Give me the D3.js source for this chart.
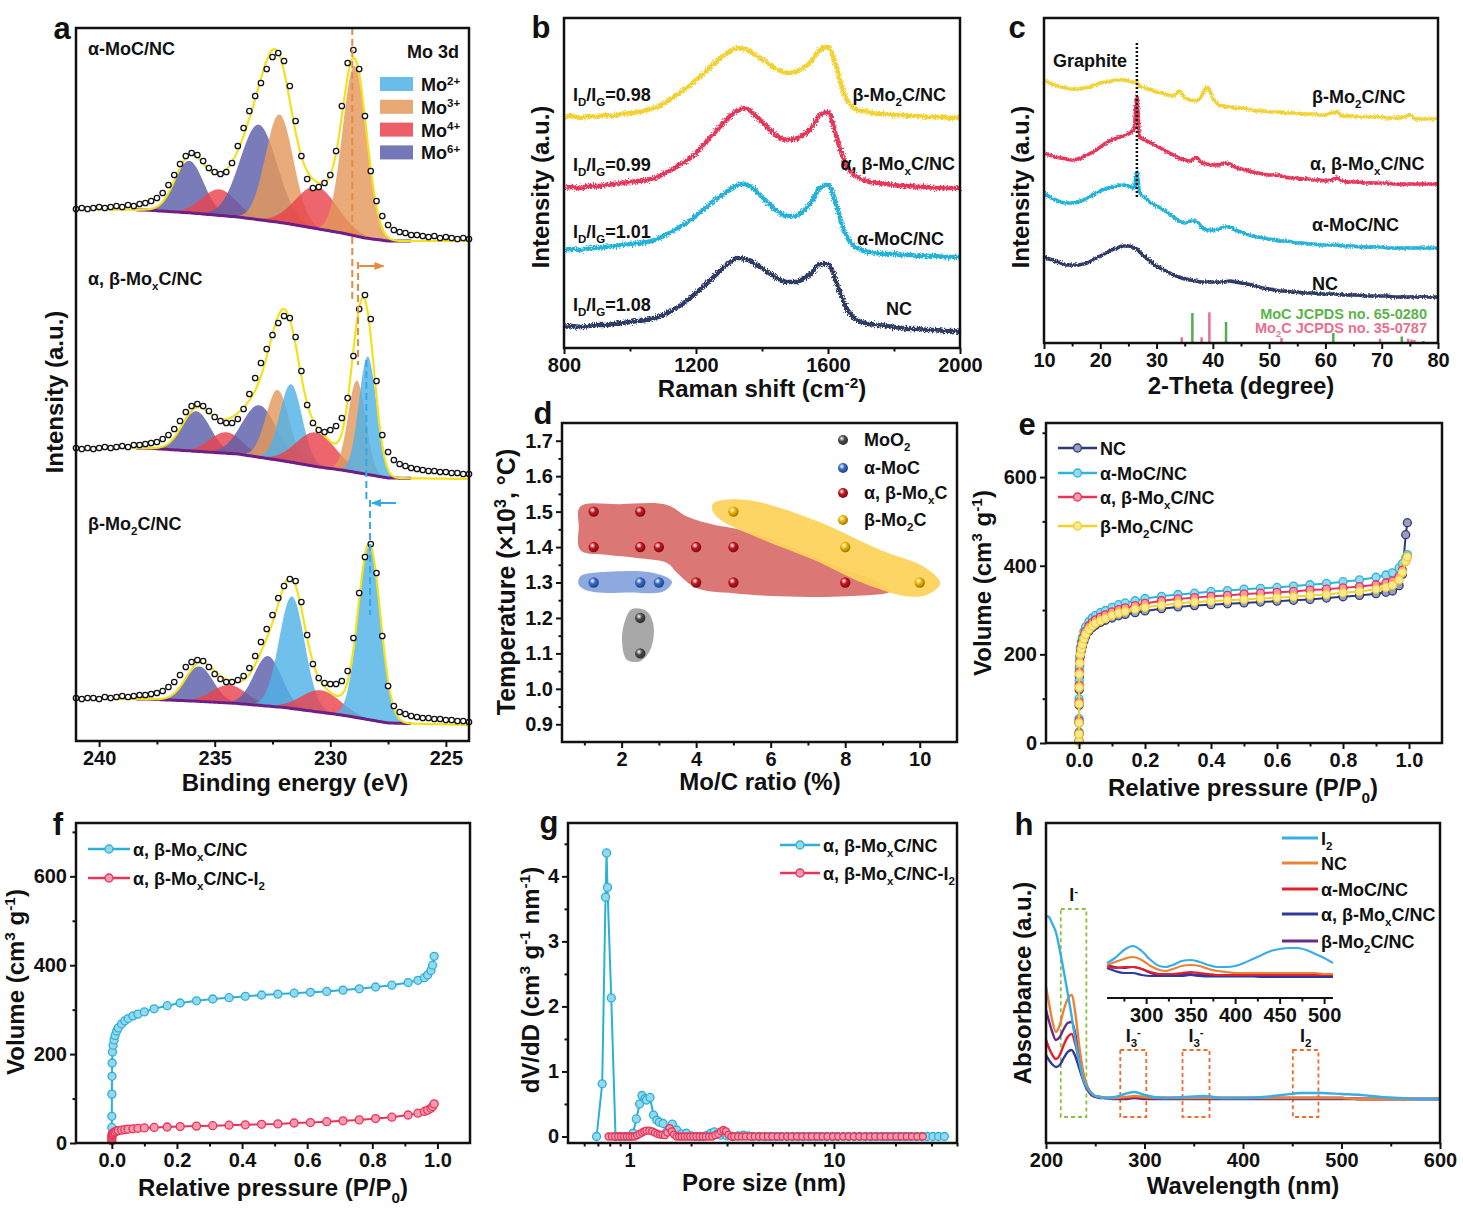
<!DOCTYPE html>
<html>
<head>
<meta charset="utf-8">
<script src="https://cdn.jsdelivr.net/npm/d3@7"></script>
<style>
  body { margin: 0; background: #fff; }
</style>
</head>
<body>
<div id="chart"></div>
<script>
// ---------- data: a (XPS Mo 3d) ----------
const xpsEnergy = [241, 240.75, 240.5, 240.25, 240, 239.75, 239.5, 239.25, 239, 238.75,
  238.5, 238.25, 238, 237.75, 237.5, 237.25, 237, 236.75, 236.5, 236.25,
  236, 235.75, 235.5, 235.25, 235, 234.75, 234.5, 234.25, 234, 233.75,
  233.5, 233.25, 233, 232.75, 232.5, 232.25, 232, 231.75, 231.5, 231.25,
  231, 230.75, 230.5, 230.25, 230, 229.75, 229.5, 229.25, 229, 228.75,
  228.5, 228.25, 228, 227.75, 227.5, 227.25, 227, 226.75, 226.5, 226.25,
  226, 225.75, 225.5, 225.25, 225, 224.75, 224.5, 224.25, 224];
const obsMoC = [532, 533, 532, 533, 534, 533, 534, 535, 534, 536,
  535, 537, 538, 540, 543, 548, 556, 566, 577, 585,
  588, 586, 580, 573, 569, 567, 569, 578, 595, 613,
  630, 645, 658, 672, 684, 688, 680, 655, 620, 585,
  562, 553, 554, 558, 566, 590, 635, 678, 691, 672,
  625, 570, 540, 525, 516, 511, 509, 508, 506, 506,
  505, 504, 505, 503, 504, 503, 502, 503, 502];
const obsMoxC = [293, 292, 293, 292, 293, 294, 293, 294, 295, 294,
  296, 296, 297, 298, 299, 302, 306, 312, 320, 329,
  335, 337, 335, 330, 324, 320, 318, 318, 322, 332,
  347, 363, 378, 392, 406, 418, 425, 423, 404, 370,
  336, 318, 311, 309, 311, 315, 323, 343, 385, 432,
  446, 422, 360, 306, 289, 281, 277, 275, 273, 272,
  271, 270, 270, 269, 269, 268, 268, 267, 267];
const obsMo2C = [43, 42, 43, 43, 42, 44, 43, 44, 45, 44,
  45, 46, 46, 47, 48, 50, 54, 59, 66, 74,
  79, 81, 80, 74, 67, 62, 59, 59, 61, 65,
  73, 85, 99, 112, 126, 143, 155, 162, 160, 139,
  106, 77, 63, 58, 57, 57, 60, 70, 103, 148,
  184, 197, 168, 105, 55, 35, 29, 27, 25, 24,
  23, 23, 22, 22, 21, 21, 20, 20, 19];
// background knots
const bgEnergy = [241, 238, 236, 234, 232, 230.5, 229.5, 228.5, 227.5, 224];
const bgMoC = [532, 531, 528, 524, 518, 512, 508, 503, 500, 500];
const bgMoxC = [293, 293, 290, 287, 280, 274, 271, 267, 263, 262];
const bgMo2C = [42, 42, 40, 37.5, 33.5, 29, 26, 22, 18, 16];
// fitted components: [state, centre eV, height, sigma eV]
const compsMoC = [["Mo6+", 236.1, 52, 0.62], ["Mo4+", 234.8, 26, 0.75], ["Mo6+", 233.1, 95, 0.8],
  ["Mo3+", 232.2, 108, 0.6], ["Mo4+", 230.6, 42, 0.9], ["Mo3+", 228.95, 170, 0.52]];
const compsMoxC = [["Mo6+", 235.8, 40, 0.62], ["Mo4+", 234.5, 21, 0.7], ["Mo6+", 233.07, 52, 0.75],
  ["Mo3+", 232.28, 70, 0.5], ["Mo2+", 231.7, 78, 0.48], ["Mo4+", 230.62, 34, 0.85],
  ["Mo3+", 228.85, 92, 0.38], ["Mo2+", 228.38, 118, 0.38]];
const compsMo2C = [["Mo6+", 235.67, 35, 0.6], ["Mo4+", 234.37, 18, 0.75], ["Mo6+", 232.7, 50, 0.6],
  ["Mo2+", 231.66, 112, 0.55], ["Mo4+", 230.4, 22, 0.85], ["Mo2+", 228.31, 175, 0.48]];
const moStates = ["Mo2+", "Mo3+", "Mo4+", "Mo6+"];
// peak shift guides: [eV, from, to]
const shiftOrange = [[229.05, 713, 441], [228.8, 479, 376]];
const shiftBlue = [[228.44, 381, 241], [228.28, 241, 126]];

// ---------- data: b (Raman) ----------
const ramanShift = [800, 825, 850, 875, 900, 925, 950, 975, 1000, 1025, 1050, 1075, 1100, 1125, 1150, 1175,
  1200, 1225, 1250, 1275, 1300, 1325, 1350, 1375, 1400, 1425, 1450, 1475, 1500, 1525, 1550, 1575,
  1600, 1625, 1650, 1675, 1700, 1725, 1750, 1775, 1800, 1825, 1850, 1875, 1900, 1925, 1950, 1975, 2000];
const ramanMo2C = [231, 232, 230, 232, 231, 233, 232, 234, 235, 236, 238, 240, 244, 249, 255, 261,
  268, 275, 283, 290, 296, 300, 299, 294, 289, 283, 278, 275, 276, 280, 287, 298,
  301, 281, 253, 241, 237, 236, 234, 234, 233, 233, 232, 232, 231, 231, 231, 230, 231];
const ramanMoxC = [160, 161, 160, 162, 162, 163, 164, 165, 166, 167, 168, 170, 174, 178, 183, 188,
  195, 204, 213, 222, 231, 237, 240, 234, 226, 218, 211, 208, 209, 213, 220, 233,
  236, 212, 186, 174, 169, 166, 165, 164, 163, 162, 162, 161, 161, 160, 160, 160, 160];
const ramanMoC = [98, 99, 98, 100, 100, 101, 102, 103, 104, 105, 106, 108, 112, 116, 121, 126,
  132, 139, 146, 152, 158, 163, 164, 159, 151, 143, 136, 132, 132, 137, 146, 160,
  163, 143, 116, 103, 98, 96, 95, 94, 94, 93, 93, 92, 92, 92, 91, 91, 91];
const ramanNC = [21, 22, 21, 22, 23, 23, 24, 25, 26, 27, 28, 30, 33, 37, 42, 48,
  55, 62, 70, 78, 85, 90, 89, 85, 80, 74, 69, 66, 66, 69, 75, 84,
  84, 66, 44, 31, 26, 24, 23, 22, 21, 20, 19, 19, 18, 18, 17, 17, 16];
const ramanRatios = ["0.98", "0.99", "1.01", "1.08"];

// ---------- data: c (XRD) ----------
const twoTheta = [10, 11, 12, 13, 14, 15, 16, 17, 18, 19, 20, 21, 22, 23, 24, 25, 26, 26.5,
  27, 28, 29, 30, 31, 32, 33, 34, 35, 36, 37, 38, 39, 40, 41, 42, 43, 44, 45, 46, 47, 48, 49, 50,
  51, 52, 53, 54, 55, 56, 57, 58, 59, 60, 61, 62, 63, 64, 65, 66, 67, 68, 69, 70,
  71, 72, 73, 74, 75, 76, 77, 78, 79, 80];
const xrdMo2C = [263, 260, 258, 256, 255, 254, 254, 255, 256, 258, 260, 261, 262, 263, 263, 262, 261, 261,
  257, 255, 253, 251, 250, 248, 247, 252, 245, 243, 242, 247, 256, 245, 238, 237, 236, 235, 235, 234, 233, 232, 232, 231,
  231, 231, 230, 230, 230, 229, 229, 229, 228, 228, 230, 231, 227, 227, 227, 226, 226, 226, 226, 226,
  225, 225, 225, 226, 228, 224, 224, 224, 224, 224];
const xrdMoxC = [190, 188, 186, 185, 184, 183, 184, 186, 189, 192, 196, 200, 203, 205, 207, 209, 214, 246,
  206, 203, 200, 197, 194, 191, 188, 185, 183, 182, 186, 180, 179, 178, 178, 180, 179, 176, 174, 173, 171, 170, 169, 168,
  168, 167, 166, 165, 165, 164, 164, 163, 163, 162, 163, 165, 162, 161, 161, 161, 160, 160, 160, 160,
  160, 159, 159, 159, 159, 159, 159, 159, 159, 159];
const xrdMoC = [150, 146, 143, 141, 140, 140, 141, 143, 146, 149, 152, 154, 156, 157, 158, 157, 155, 171,
  150, 145, 140, 137, 134, 130, 126, 122, 120, 122, 122, 116, 113, 113, 114, 116, 116, 113, 111, 109, 107, 106, 105, 104,
  103, 102, 102, 101, 100, 100, 99, 99, 98, 98, 98, 98, 97, 97, 97, 96, 96, 96, 96, 96,
  95, 95, 95, 95, 95, 95, 95, 95, 95, 95];
const xrdNC = [86, 84, 82, 80, 78, 78, 78, 79, 81, 84, 87, 90, 93, 95, 97, 97, 95, 94,
  91, 86, 81, 77, 74, 71, 68, 66, 64, 63, 62, 61, 61, 61, 61, 61, 62, 61, 60, 59, 58, 56, 55, 54,
  53, 52, 52, 51, 51, 50, 50, 50, 49, 49, 49, 49, 48, 48, 48, 48, 47, 47, 47, 47,
  47, 46, 46, 46, 46, 46, 46, 46, 46, 46];
const graphitePos = 26.5;
const refMoC = [[36.36, 30], [42.34, 21], [61.4, 10], [73.56, 6.5], [77.4, 2]];
const refMo2C = [[34.47, 5.7], [38.0, 5.7], [39.38, 30.7], [52.2, 5], [69.7, 4.3], [74.7, 4.3], [75.3, 3.5], [75.8, 3]];

// ---------- data: d (phase map) ----------
const phaseMoO2 = [[2.5, 1.2], [2.5, 1.1]];
const phaseMoC = [[1.25, 1.3], [2.5, 1.3], [3, 1.3]];
const phaseMoxC = [[1.25, 1.5], [2.5, 1.5], [1.25, 1.4], [2.5, 1.4], [3, 1.4], [4, 1.4], [5, 1.4], [4, 1.3], [5, 1.3], [8, 1.3]];
const phaseMo2C = [[5, 1.5], [8, 1.4], [10, 1.3]];
const blobMoO2 = [[2.28, 1.225], [2.68, 1.218], [2.86, 1.176], [2.77, 1.11], [2.5, 1.078], [2.14, 1.082], [2.01, 1.139], [2.1, 1.195]];
const blobMoC = [[0.89, 1.317], [1.78, 1.331], [2.86, 1.327], [3.35, 1.303], [3.13, 1.275], [2.23, 1.272], [1.16, 1.275], [0.85, 1.294]];
const blobMoxC = [[0.89, 1.514], [1.96, 1.521], [3.22, 1.519], [3.75, 1.486], [4.47, 1.463], [5.0, 1.453], [6.08, 1.42],
  [7.15, 1.373], [8.05, 1.336], [8.94, 1.298], [9.21, 1.275], [8.05, 1.261], [6.26, 1.261], [5.0, 1.27],
  [4.02, 1.284], [3.49, 1.327], [3.22, 1.355], [2.41, 1.369], [1.61, 1.378], [0.89, 1.392], [0.85, 1.458]];
const blobMo2C = [[4.47, 1.524], [5.36, 1.533], [7.15, 1.477], [8.94, 1.392], [10.1, 1.345], [10.55, 1.298], [10.19, 1.265],
  [9.66, 1.261], [8.49, 1.298], [7.15, 1.364], [5.81, 1.42], [4.65, 1.477], [4.43, 1.505]];

// ---------- data: e (N2 isotherms) ----------
const pressE = [0.00001, 0.00005, 0.0001, 0.0003, 0.0006, 0.001, 0.002, 0.004, 0.007, 0.01,
  0.015, 0.02, 0.03, 0.04, 0.05, 0.065, 0.08, 0.1, 0.12, 0.14,
  0.17, 0.2, 0.25, 0.3, 0.35, 0.4, 0.45, 0.5, 0.55, 0.6,
  0.65, 0.7, 0.75, 0.8, 0.85, 0.9, 0.93, 0.95, 0.97, 0.98, 0.99, 0.995];
const isoNC = [4, 20, 45, 85, 120, 150, 175, 195, 208, 218,
  230, 240, 252, 260, 266, 272, 277, 282, 287, 290,
  294, 298, 303, 307, 310, 312, 314, 316, 318, 320,
  322, 324, 327, 330, 333, 337, 340, 343, 355, 380, 470, 497];
const isoMoC = [5, 25, 55, 100, 140, 170, 195, 215, 228, 238,
  252, 262, 274, 282, 288, 294, 299, 306, 312, 316,
  321, 326, 331, 335, 338, 342, 344, 347, 349, 351,
  354, 357, 360, 364, 368, 374, 379, 384, 395, 405, 418, 425];
const isoMoxC = [5, 22, 50, 92, 130, 160, 185, 205, 218, 228,
  242, 252, 264, 272, 278, 284, 289, 296, 301, 305,
  310, 315, 321, 325, 328, 331, 333, 336, 338, 340,
  342, 345, 347, 350, 353, 357, 361, 366, 376, 390, 410, 420];
const isoMo2C = [4, 20, 45, 88, 125, 155, 180, 200, 212, 222,
  235, 245, 256, 264, 270, 276, 281, 288, 293, 297,
  302, 306, 311, 315, 318, 320, 322, 324, 326, 328,
  330, 333, 335, 339, 342, 347, 351, 356, 368, 385, 410, 420];

// ---------- data: f (before / after I2) ----------
const pressF = [0.00001, 0.00005, 0.0002, 0.0006, 0.001, 0.002, 0.004, 0.007, 0.01, 0.015,
  0.02, 0.03, 0.04, 0.05, 0.065, 0.08, 0.1, 0.13, 0.17, 0.21,
  0.26, 0.31, 0.36, 0.41, 0.46, 0.51, 0.56, 0.61, 0.66, 0.71,
  0.76, 0.81, 0.86, 0.91, 0.94, 0.96, 0.97, 0.98, 0.985, 0.99];
const isoHost = [35, 60, 110, 150, 180, 205, 220, 232, 242, 252,
  259, 268, 275, 280, 286, 290, 295, 302, 309, 315,
  320, 324, 327, 330, 333, 335, 337, 339, 341, 344,
  347, 351, 355, 361, 366, 372, 378, 388, 400, 420];
const isoLoaded = [5, 10, 14, 17, 19, 21, 22, 24, 25, 27,
  28, 29, 30, 31, 32, 33, 34, 35, 36, 37,
  38, 39, 40, 41, 42, 43, 45, 46, 48, 50,
  52, 55, 58, 63, 67, 71, 74, 78, 82, 88];

// ---------- data: g (pore size distribution) ----------
const poreHost = [0.69, 0.735, 0.763, 0.772, 0.78, 0.814, 0.854, 0.9, 0.95, 1.0,
  1.04, 1.08, 1.12, 1.15, 1.19, 1.21, 1.26, 1.31, 1.36, 1.4,
  1.46, 1.52, 1.57, 1.62, 1.7, 1.8, 1.9, 2.0, 2.1, 2.2,
  2.3, 2.4, 2.5, 2.6, 2.7, 2.8, 2.9, 3.0, 3.2, 3.4,
  3.6, 3.8, 4.0, 4.3, 4.6, 4.9, 5.2, 5.5, 5.9, 6.3,
  6.7, 7.1, 7.6, 8.1, 8.6, 9.2, 9.8, 10.4, 11.1, 11.8,
  12.6, 13.4, 14.3, 15.2, 16.2, 17.3, 18.4, 19.6, 20.9, 22.3,
  23.7, 25.3, 26.9, 28.6, 30.5, 32.5, 34.7];
const psdHost = [0, 0.81, 3.68, 4.36, 3.83, 2.13, 0, 0, 0, 0,
  0.05, 0.27, 0.5, 0.63, 0.58, 0.56, 0.6, 0.33, 0.25, 0.22,
  0.2, 0.07, 0.12, 0.19, 0.1, 0.04, 0.05, 0.01, 0, 0,
  0, 0.02, 0.05, 0.07, 0.04, 0.02, 0.05, 0.01, 0, 0.01,
  0.02, 0.01, 0, 0, 0, 0, 0, 0, 0, 0,
  0, 0, 0, 0, 0, 0, 0, 0, 0, 0,
  0, 0, 0, 0, 0, 0, 0, 0, 0, 0,
  0, 0, 0, 0, 0, 0, 0];
const poreLoaded = [0.79, 0.82, 0.85, 0.88, 0.91, 0.94, 0.97, 1.0, 1.03, 1.06,
  1.09, 1.12, 1.15, 1.18, 1.21, 1.25, 1.29, 1.33, 1.37, 1.41,
  1.45, 1.49, 1.53, 1.57, 1.61, 1.65, 1.7, 1.75, 1.8, 1.86,
  1.92, 1.98, 2.05, 2.12, 2.2, 2.28, 2.36, 2.45, 2.54, 2.63,
  2.72, 2.8, 2.88, 2.96, 3.05, 3.15, 3.25, 3.4, 3.55, 3.7,
  3.9, 4.1, 4.3, 4.5, 4.75, 5.0, 5.3, 5.6, 5.9, 6.2,
  6.6, 7.0, 7.4, 7.8, 8.3, 8.8, 9.3, 9.9, 10.5, 11.1,
  11.8, 12.5, 13.3, 14.1, 15.0, 15.9, 16.9, 17.9, 19.0, 20.2,
  21.4, 22.7, 24.1, 25.6, 27.2];
const psdLoaded = [0, 0, 0, 0, 0, 0, 0, 0, 0, 0,
  0.02, 0.04, 0.06, 0.08, 0.09, 0.09, 0.08, 0.06, 0.04, 0.03,
  0.03, 0.02, 0.06, 0.13, 0.08, 0.03, 0, 0, 0, 0,
  0, 0, 0, 0, 0, 0, 0, 0, 0, 0.02,
  0.04, 0.08, 0.1, 0.08, 0.03, 0, 0, 0, 0, 0,
  0, 0, 0, 0, 0, 0, 0, 0, 0, 0,
  0, 0, 0, 0, 0, 0, 0, 0, 0, 0,
  0, 0, 0, 0, 0, 0, 0, 0, 0, 0,
  0, 0, 0, 0, 0];

// ---------- data: h (UV-vis) ----------
const wave = [200, 203, 206, 210, 214, 218, 222, 226, 230, 234, 238, 242, 246, 250, 255, 260, 270, 280,
  290, 300, 320, 340, 360, 380, 400, 420, 440, 460, 480, 500, 520, 540, 560, 580, 600];
const uvI2 = [227, 226, 220, 211, 193, 172, 150, 127, 102, 80, 63, 55, 50, 47, 46, 45, 46, 49,
  51, 48, 45, 46, 47, 45, 45, 46, 48, 50, 50, 49, 48, 46, 45, 44, 44];
const uvNC = [156, 140, 124, 111, 118, 133, 144, 148, 128, 95, 70, 56, 50, 47, 46, 45, 45, 46,
  47, 46, 45, 45, 45, 45, 45, 45, 45, 45, 45, 45, 44, 44, 44, 44, 44];
const uvMoC = [103, 95, 89, 84, 88, 98, 106, 109, 98, 80, 64, 54, 49, 47, 46, 45, 45, 45,
  46, 45, 45, 45, 45, 45, 45, 45, 45, 45, 45, 45, 44, 44, 44, 44, 44];
const uvMoxC = [88, 83, 79, 76, 78, 85, 91, 93, 86, 74, 62, 53, 48, 46, 45, 45, 44, 44,
  45, 44, 44, 44, 44, 44, 44, 44, 44, 44, 44, 44, 44, 44, 44, 44, 44];
const uvMo2C = [133, 122, 112, 103, 106, 114, 120, 121, 108, 88, 68, 56, 50, 47, 46, 45, 45, 45,
  46, 45, 45, 45, 45, 45, 45, 45, 45, 45, 45, 45, 44, 44, 44, 44, 44];
const waveInset = [256, 265, 275, 285, 295, 305, 315, 322, 330, 340, 350, 360, 370, 380, 390, 400,
  410, 420, 430, 440, 450, 460, 470, 480, 490, 500, 510];
const insetI2 = [35, 40, 48, 52, 47, 38, 32, 31, 33, 37, 38, 36, 33, 31, 31, 32, 35, 39, 43, 47, 49, 50, 50, 48, 44, 40, 35];
const insetNC = [33, 36, 39, 41, 38, 32, 28, 27, 29, 32, 33, 32, 29, 27, 26, 25, 25, 25, 25, 25, 25, 25, 25, 25, 25, 24, 24];
const insetMoC = [31, 30, 31, 31, 29, 26, 24, 24, 24, 25, 26, 25, 24, 23, 23, 23, 23, 23, 23, 23, 23, 23, 23, 23, 23, 23, 23];
const insetMoxC = [30, 27, 25, 25, 23, 22, 22, 22, 22, 22, 23, 22, 21.5, 21.5, 21.5, 21.5, 21.5, 21.5, 21, 21, 21, 21, 21, 21, 21, 21, 21];
const insetMo2C = [33, 31, 30, 31, 29, 25, 23, 23, 23, 24, 24, 23, 23, 22, 22, 22, 22, 22, 22, 22, 22, 22, 22, 22, 22, 22, 22];
// band boxes: [label, from nm, to nm, low, high]
const bandBoxes = [["I^{-}", 215, 241, 26, 234], ["I_{3}^{-}", 275.4, 301.8, 26, 93],
  ["I_{3}^{-}", 338.6, 366, 26, 93], ["I_{2}", 450.6, 476.6, 26, 93]];

// ---------- styling ----------
const FONT = "'Liberation Sans', Arial, Helvetica, sans-serif";
const INK = "#111";
const moColor = { "Mo2+": "#4fb2e6", "Mo3+": "#e3995c", "Mo4+": "#e9434d", "Mo6+": "#5d5fa9" };
const cYellow = "#f2d230", cRed = "#e8345a", cCyan = "#22b2da", cNavy = "#2d3a66";

const svg = d3.select("#chart").append("svg")
  .attr("width", 1463).attr("height", 1210)
  .attr("viewBox", "0 0 1463 1210");
svg.append("rect").attr("width", 1463).attr("height", 1210).attr("fill", "#fff");
const defs = svg.append("defs");

// rough-edged look for the noisy spectra
function noiseFilter(id, scale, freq) {
  const f = defs.append("filter").attr("id", id)
    .attr("filterUnits", "userSpaceOnUse").attr("x", 0).attr("y", 0).attr("width", 1463).attr("height", 1210);
  f.append("feTurbulence").attr("type", "fractalNoise").attr("baseFrequency", freq)
    .attr("numOctaves", 2).attr("seed", 7).attr("result", "n");
  f.append("feDisplacementMap").attr("in", "SourceGraphic").attr("in2", "n")
    .attr("scale", scale).attr("xChannelSelector", "R").attr("yChannelSelector", "G");
}
noiseFilter("noisyB", 6, "0.9 0.6");
noiseFilter("noisyC", 4, "0.9 0.6");

// text with _{sub} and ^{sup}
function rich(t, str) {
  const fs = +t.attr("font-size");
  const tokens = str.split(/(_\{[^}]*\}|\^\{[^}]*\})/).filter(s => s.length);
  let cur = 0;
  tokens.forEach(tok => {
    let txt = tok, target = 0, small = false;
    if (tok.startsWith("_{")) { txt = tok.slice(2, -1); target = 0.28; small = true; }
    else if (tok.startsWith("^{")) { txt = tok.slice(2, -1); target = -0.36; small = true; }
    const ts = t.append("tspan").text(txt);
    if (target !== cur) ts.attr("dy", (target - cur) * fs);
    if (small) ts.attr("font-size", fs * 0.64);
    cur = target;
  });
}

function label(x, y, str, o = {}) {
  const t = svg.append("text")
    .attr("x", x).attr("y", y)
    .attr("font-family", FONT).attr("font-weight", "bold")
    .attr("font-size", o.size || 18)
    .attr("fill", o.color || INK)
    .attr("text-anchor", o.anchor || "start");
  if (o.rotate) t.attr("transform", `rotate(-90,${x},${y})`);
  rich(t, str);
  return t;
}

function frame(p) {
  svg.append("rect")
    .attr("x", p.l).attr("y", p.t)
    .attr("width", p.r - p.l).attr("height", p.b - p.t)
    .attr("fill", "none").attr("stroke", INK).attr("stroke-width", 2.5);
}

function styleAxis(g) {
  g.select(".domain").remove();
  g.selectAll("line").attr("stroke", INK).attr("stroke-width", 2);
  g.selectAll("text")
    .attr("font-family", FONT).attr("font-weight", "bold")
    .attr("font-size", 20).attr("fill", INK);
}

function xAxis(scale, y, majors, minors, fmt) {
  const g = svg.append("g").attr("transform", `translate(0,${y})`)
    .call(d3.axisBottom(scale).tickValues(majors).tickSize(6).tickPadding(4).tickFormat(fmt || (d => d)));
  styleAxis(g);
  if (minors) {
    const m = svg.append("g").attr("transform", `translate(0,${y})`)
      .call(d3.axisBottom(scale).tickValues(minors).tickSize(3.5).tickFormat(""));
    styleAxis(m);
  }
}

function yAxis(scale, x, majors, minors, fmt) {
  const g = svg.append("g").attr("transform", `translate(${x},0)`)
    .call(d3.axisLeft(scale).tickValues(majors).tickSize(6).tickPadding(3).tickFormat(fmt || (d => d)));
  styleAxis(g);
  if (minors) {
    const m = svg.append("g").attr("transform", `translate(${x},0)`)
      .call(d3.axisLeft(scale).tickValues(minors).tickSize(3.5).tickFormat(""));
    styleAxis(m);
  }
}

function panelLetter(x, y, s) {
  svg.append("text").attr("x", x).attr("y", y)
    .attr("font-family", FONT).attr("font-weight", "bold")
    .attr("font-size", 31).attr("text-anchor", "middle").attr("fill", INK)
    .text(s);
}

// ================= a: XPS =================
const PA = { l: 76, t: 28, r: 469, b: 741 };
const xa = d3.scaleLinear().domain([241, 224]).range([PA.l, PA.r]);
const ya = d3.scaleLinear().domain([0, 713]).range([PA.b, PA.t]);
const gA = svg.append("g");

function drawXps(obs, bgVals, comps) {
  const bgAt = d3.scaleLinear().domain(bgEnergy).range(bgVals);
  const gauss = (e, c) => c[2] * Math.exp(-((e - c[1]) ** 2) / (2 * c[3] * c[3]));
  comps.forEach(c => {
    const es = d3.range(c[1] + 3.6 * c[3], c[1] - 3.6 * c[3], -0.03);
    gA.append("path")
      .datum(es)
      .attr("fill", moColor[c[0]]).attr("fill-opacity", 0.82)
      .attr("d", d3.area()
        .x(e => xa(e))
        .y0(e => ya(bgAt(e)))
        .y1(e => ya(bgAt(e) + gauss(e, c))));
  });
  const bgSpan = d3.range(238.4, 226.4, -0.1);
  gA.append("path").datum(bgSpan)
    .attr("fill", "none").attr("stroke", "#6e1f86").attr("stroke-width", 3)
    .attr("d", d3.line().x(e => xa(e)).y(e => ya(bgAt(e))));
  const fine = d3.range(241, 223.99, -0.04);
  gA.append("path").datum(fine)
    .attr("fill", "none").attr("stroke", "#f3e21b").attr("stroke-width", 2.2)
    .attr("d", d3.line().x(e => xa(e)).y(e => ya(bgAt(e) + d3.sum(comps, c => gauss(e, c)))));
  gA.append("g").selectAll("circle")
    .data(xpsEnergy.map((e, i) => [e, obs[i]]))
    .join("circle")
    .attr("cx", d => xa(d[0])).attr("cy", d => ya(d[1]))
    .attr("r", 2.7).attr("fill", "#fff").attr("stroke", INK).attr("stroke-width", 1.3);
}
drawXps(obsMoC, bgMoC, compsMoC);
drawXps(obsMoxC, bgMoxC, compsMoxC);
drawXps(obsMo2C, bgMo2C, compsMo2C);

function guide(list, color) {
  list.forEach(d => {
    gA.append("line")
      .attr("x1", xa(d[0])).attr("x2", xa(d[0]))
      .attr("y1", ya(d[1])).attr("y2", ya(d[2]))
      .attr("stroke", color).attr("stroke-width", 2).attr("stroke-dasharray", "7,4");
  });
}
guide(shiftOrange, "#e98a3f");
guide(shiftBlue, "#34a9e6");
defs.append("marker").attr("id", "arrO").attr("viewBox", "0 0 10 10").attr("refX", 9).attr("refY", 5)
  .attr("markerWidth", 5).attr("markerHeight", 5).attr("orient", "auto")
  .append("path").attr("d", "M0,1 L10,5 L0,9 z").attr("fill", "#e98a3f");
defs.append("marker").attr("id", "arrB").attr("viewBox", "0 0 10 10").attr("refX", 9).attr("refY", 5)
  .attr("markerWidth", 5).attr("markerHeight", 5).attr("orient", "auto")
  .append("path").attr("d", "M0,1 L10,5 L0,9 z").attr("fill", "#34a9e6");
gA.append("line").attr("x1", xa(228.75)).attr("x2", xa(227.7)).attr("y1", ya(475)).attr("y2", ya(475))
  .attr("stroke", "#e98a3f").attr("stroke-width", 2).attr("marker-end", "url(#arrO)");
gA.append("line").attr("x1", xa(227.15)).attr("x2", xa(228.2)).attr("y1", ya(238)).attr("y2", ya(238))
  .attr("stroke", "#34a9e6").attr("stroke-width", 2).attr("marker-end", "url(#arrB)");

frame(PA);
xAxis(xa, PA.b, [240, 235, 230, 225], [237.5, 232.5, 227.5]);
label(295, 791, "Binding energy (eV)", { size: 24, anchor: "middle" });
label(63, 392, "Intensity (a.u.)", { size: 24, anchor: "middle", rotate: true });
label(88, 55, "α-MoC/NC");
label(88, 285, "α, β-Mo_{x}C/NC");
label(88, 530, "β-Mo_{2}C/NC");
label(459, 58, "Mo 3d", { anchor: "end" });
moStates.forEach((s, i) => {
  const cy = 84 + i * 22.8;
  svg.append("rect").attr("x", 380).attr("y", cy - 7).attr("width", 33).attr("height", 14)
    .attr("fill", moColor[s]).attr("fill-opacity", 0.85);
  label(421, cy + 7, "Mo^{" + s.slice(2) + "}");
});
panelLetter(62, 39, "a");

// ================= b: Raman =================
const PB = { l: 564, t: 18, r: 960, b: 348 };
const xb = d3.scaleLinear().domain([800, 2000]).range([PB.l, PB.r]);
const yb = d3.scaleLinear().domain([0, 330]).range([PB.b, PB.t]);
const gB = svg.append("g").attr("filter", "url(#noisyB)");
[[ramanNC, cNavy], [ramanMoC, cCyan], [ramanMoxC, cRed], [ramanMo2C, cYellow]].forEach(([vals, col]) => {
  gB.append("path").datum(ramanShift.map((s, i) => [s, vals[i]]))
    .attr("fill", "none").attr("stroke", col).attr("stroke-width", 4.5).attr("stroke-linejoin", "round")
    .attr("d", d3.line().x(d => xb(d[0])).y(d => yb(d[1])).curve(d3.curveMonotoneX));
});
frame(PB);
xAxis(xb, PB.b, [800, 1200, 1600, 2000], [1000, 1400, 1800]);
label(762, 397, "Raman shift (cm^{-2})", { size: 24, anchor: "middle" });
label(549, 187, "Intensity (a.u.)", { size: 24, anchor: "middle", rotate: true });
[101, 171, 238, 311].forEach((y, i) => label(573, y, "I_{D}/I_{G}=" + ramanRatios[i]));
label(946, 101, "β-Mo_{2}C/NC", { anchor: "end" });
label(955, 170, "α, β-Mo_{x}C/NC", { anchor: "end" });
label(944, 245, "α-MoC/NC", { anchor: "end" });
label(912, 315, "NC", { anchor: "end" });
panelLetter(541, 38, "b");

// ================= c: XRD =================
const PC = { l: 1044, t: 18, r: 1438, b: 343 };
const xc = d3.scaleLinear().domain([10, 80]).range([PC.l, PC.r]);
const yc = d3.scaleLinear().domain([0, 325]).range([PC.b, PC.t]);
const gC = svg.append("g").attr("filter", "url(#noisyC)");
[[xrdNC, cNavy], [xrdMoC, cCyan], [xrdMoxC, cRed], [xrdMo2C, cYellow]].forEach(([vals, col]) => {
  gC.append("path").datum(twoTheta.map((s, i) => [s, vals[i]]))
    .attr("fill", "none").attr("stroke", col).attr("stroke-width", 3.6).attr("stroke-linejoin", "round")
    .attr("d", d3.line().x(d => xc(d[0])).y(d => yc(d[1])).curve(d3.curveMonotoneX));
});
svg.append("line").attr("x1", xc(graphitePos)).attr("x2", xc(graphitePos))
  .attr("y1", yc(300)).attr("y2", yc(146))
  .attr("stroke", INK).attr("stroke-width", 2.5).attr("stroke-dasharray", "2,2");
refMoC.forEach(d => svg.append("line").attr("x1", xc(d[0])).attr("x2", xc(d[0]))
  .attr("y1", yc(0)).attr("y2", yc(d[1])).attr("stroke", "#4fb04a").attr("stroke-width", 2.5));
refMo2C.forEach(d => svg.append("line").attr("x1", xc(d[0])).attr("x2", xc(d[0]))
  .attr("y1", yc(0)).attr("y2", yc(d[1])).attr("stroke", "#ea6f8c").attr("stroke-width", 2.5));
frame(PC);
xAxis(xc, PC.b, d3.range(10, 81, 10), d3.range(15, 80, 10));
label(1241, 394, "2-Theta (degree)", { size: 24, anchor: "middle" });
label(1029, 187, "Intensity (a.u.)", { size: 24, anchor: "middle", rotate: true });
label(1053, 67, "Graphite");
label(1312, 103, "β-Mo_{2}C/NC");
label(1310, 170, "α, β-Mo_{x}C/NC");
label(1312, 231, "α-MoC/NC");
label(1312, 290, "NC");
label(1427, 319, "MoC JCPDS no. 65-0280", { size: 14.5, anchor: "end", color: "#5bb449" });
label(1427, 333, "Mo_{2}C JCPDS no. 35-0787", { size: 14.5, anchor: "end", color: "#ea6f8c" });
panelLetter(1017, 38, "c");

// ================= d: phase diagram =================
const PD = { l: 562, t: 423, r: 957, b: 742 };
const xd = d3.scaleLinear().domain([0.4, 11]).range([PD.l, PD.r]);
const yd = d3.scaleLinear().domain([0.85, 1.75]).range([PD.b, PD.t]);
const blobLine = d3.line().x(d => xd(d[0])).y(d => yd(d[1])).curve(d3.curveCatmullRomClosed.alpha(0.5));
[[blobMoO2, "#a3a3a3"], [blobMoC, "#87a4de"], [blobMoxC, "#d9706d"], [blobMo2C, "#fcd35c"]].forEach(([pts, col]) => {
  svg.append("path").attr("d", blobLine(pts)).attr("fill", col).attr("fill-opacity", 0.95);
});
const sphere = [["gGray", "#4a4a4a"], ["gBlue", "#3569c8"], ["gRed", "#c3141c"], ["gYel", "#f0b400"]];
sphere.forEach(([id, col]) => {
  const rg = defs.append("radialGradient").attr("id", id).attr("cx", "38%").attr("cy", "35%").attr("r", "65%");
  rg.append("stop").attr("offset", "0%").attr("stop-color", "#ffffff");
  rg.append("stop").attr("offset", "45%").attr("stop-color", col);
  rg.append("stop").attr("offset", "100%").attr("stop-color", d3.color(col).darker(1.2));
});
[[phaseMoO2, "gGray"], [phaseMoC, "gBlue"], [phaseMoxC, "gRed"], [phaseMo2C, "gYel"]].forEach(([pts, id]) => {
  svg.append("g").selectAll("circle").data(pts).join("circle")
    .attr("cx", d => xd(d[0])).attr("cy", d => yd(d[1])).attr("r", 5.2)
    .attr("fill", `url(#${id})`);
});
frame(PD);
xAxis(xd, PD.b, [2, 4, 6, 8, 10], [1, 3, 5, 7, 9]);
yAxis(yd, PD.l, [0.9, 1.0, 1.1, 1.2, 1.3, 1.4, 1.5, 1.6, 1.7], [0.95, 1.05, 1.15, 1.25, 1.35, 1.45, 1.55, 1.65], d3.format(".1f"));
label(760, 790, "Mo/C ratio (%)", { size: 24, anchor: "middle" });
label(515, 582, "Temperature (×10^{3}, °C)", { size: 25, anchor: "middle", rotate: true });
[["MoO_{2}", "gGray", 440], ["α-MoC", "gBlue", 468], ["α, β-Mo_{x}C", "gRed", 493], ["β-Mo_{2}C", "gYel", 520]].forEach(([t, id, y]) => {
  svg.append("circle").attr("cx", 843).attr("cy", y).attr("r", 5).attr("fill", `url(#${id})`);
  label(864, y + 6, t);
});
panelLetter(543, 424, "d");

// ---------- shared: line + marker series ----------
function markerSeries(xs, ys, xS, yS, col, r, w) {
  const pts = xs.map((x, i) => [x, ys[i]]);
  svg.append("path").datum(pts)
    .attr("fill", "none").attr("stroke", col).attr("stroke-width", w || 2)
    .attr("d", d3.line().x(d => xS(d[0])).y(d => yS(d[1])));
  svg.append("g").selectAll("circle").data(pts).join("circle")
    .attr("cx", d => xS(d[0])).attr("cy", d => yS(d[1])).attr("r", r || 4)
    .attr("fill", d3.interpolateRgb(col, "#fff")(0.5)).attr("stroke", col).attr("stroke-width", 1.3);
}
function legendRow(x1, x2, y, col, text, withMarker, w) {
  svg.append("line").attr("x1", x1).attr("x2", x2).attr("y1", y).attr("y2", y)
    .attr("stroke", col).attr("stroke-width", w || 2.5);
  if (withMarker) {
    svg.append("circle").attr("cx", (x1 + x2) / 2).attr("cy", y).attr("r", 4)
      .attr("fill", d3.interpolateRgb(col, "#fff")(0.5)).attr("stroke", col).attr("stroke-width", 1.3);
  }
  label(x2 + 3, y + 6.5, text);
}

// ================= e: isotherms =================
const PE = { l: 1046, t: 423, r: 1442, b: 743 };
const xe = d3.scaleLinear().domain([-0.1, 1.1]).range([PE.l, PE.r]);
const ye = d3.scaleLinear().domain([0, 722]).range([PE.b, PE.t]);
markerSeries(pressE, isoNC, xe, ye, "#2f3b78");
markerSeries(pressE, isoMoC, xe, ye, "#2bb5dc");
markerSeries(pressE, isoMoxC, xe, ye, "#e8345a");
markerSeries(pressE, isoMo2C, xe, ye, "#f3d02a");
frame(PE);
xAxis(xe, PE.b, [0, 0.2, 0.4, 0.6, 0.8, 1.0], [0.1, 0.3, 0.5, 0.7, 0.9], d3.format(".1f"));
yAxis(ye, PE.l, [0, 200, 400, 600], [100, 300, 500, 700]);
label(1243, 796, "Relative pressure (P/P_{0})", { size: 24, anchor: "middle" });
label(991, 583, "Volume (cm^{3} g^{-1})", { size: 24, anchor: "middle", rotate: true });
legendRow(1058, 1097, 448, "#2f3b78", "NC", true);
legendRow(1058, 1097, 473, "#2bb5dc", "α-MoC/NC", true);
legendRow(1058, 1097, 497, "#e8345a", "α, β-Mo_{x}C/NC", true);
legendRow(1058, 1097, 526, "#f3d02a", "β-Mo_{2}C/NC", true);
panelLetter(1027, 435, "e");

// ================= f: isotherms before/after I2 =================
const PF = { l: 76, t: 823, r: 470, b: 1143 };
const xf = d3.scaleLinear().domain([-0.11, 1.1]).range([PF.l, PF.r]);
const yf = d3.scaleLinear().domain([0, 720]).range([PF.b, PF.t]);
markerSeries(pressF, isoHost, xf, yf, "#2bb0d8");
markerSeries(pressF, isoLoaded, xf, yf, "#e8345a");
frame(PF);
xAxis(xf, PF.b, [0, 0.2, 0.4, 0.6, 0.8, 1.0], [0.1, 0.3, 0.5, 0.7, 0.9], d3.format(".1f"));
yAxis(yf, PF.l, [0, 200, 400, 600], [100, 300, 500, 700]);
label(273, 1196, "Relative pressure (P/P_{0})", { size: 24, anchor: "middle" });
label(24, 982, "Volume (cm^{3} g^{-1})", { size: 24, anchor: "middle", rotate: true });
legendRow(88, 130, 849, "#2bb0d8", "α, β-Mo_{x}C/NC", true);
legendRow(88, 130, 878, "#e8345a", "α, β-Mo_{x}C/NC-I_{2}", true);
panelLetter(58, 835, "f");

// ================= g: pore size =================
const PG = { l: 568, t: 823, r: 957, b: 1143 };
const xg = d3.scaleLog().domain([0.5, 40]).range([PG.l, PG.r]);
const yg = d3.scaleLinear().domain([-0.1, 4.82]).range([PG.b, PG.t]);
markerSeries(poreHost, psdHost, xg, yg, "#2bb0d8", 4);
markerSeries(poreLoaded, psdLoaded, xg, yg, "#e8345a", 3.5);
frame(PG);
xAxis(xg, PG.b, [1, 10], [0.6, 0.7, 0.8, 0.9, 2, 3, 4, 5, 6, 7, 8, 9, 20, 30, 40]);
yAxis(yg, PG.l, [0, 1, 2, 3, 4], [0.5, 1.5, 2.5, 3.5, 4.5]);
label(764, 1191, "Pore size (nm)", { size: 24, anchor: "middle" });
label(539, 980, "dV/dD (cm^{3} g^{-1} nm^{-1})", { size: 24, anchor: "middle", rotate: true });
legendRow(780, 820, 845, "#2bb0d8", "α, β-Mo_{x}C/NC", true);
legendRow(780, 820, 873, "#e8345a", "α, β-Mo_{x}C/NC-I_{2}", true);
panelLetter(549, 833, "g");

// ================= h: UV-vis =================
const PH = { l: 1046, t: 823, r: 1440, b: 1143 };
const xh = d3.scaleLinear().domain([200, 600]).range([PH.l, PH.r]);
const yh = d3.scaleLinear().domain([0, 320]).range([PH.b, PH.t]);
const uvSeries = [["I_{2}", uvI2, insetI2, "#38aee6"], ["NC", uvNC, insetNC, "#e8843a"],
  ["α-MoC/NC", uvMoC, insetMoC, "#e5202a"], ["α, β-Mo_{x}C/NC", uvMoxC, insetMoxC, "#2f3a9e"],
  ["β-Mo_{2}C/NC", uvMo2C, insetMo2C, "#6b2a88"]];
bandBoxes.forEach(([t, a, b, lo, hi], i) => {
  svg.append("rect").attr("x", xh(a)).attr("y", yh(hi)).attr("width", xh(b) - xh(a)).attr("height", yh(lo) - yh(hi))
    .attr("fill", "none").attr("stroke", i === 0 ? "#8cc13f" : "#f06a2c").attr("stroke-width", 1.8)
    .attr("stroke-dasharray", "4,3");
  label((xh(a) + xh(b)) / 2, yh(hi) - 8, t, { anchor: "middle" });
});
uvSeries.slice().reverse().forEach(([n, vals, ins, col]) => {
  svg.append("path").datum(wave.map((w, i) => [w, vals[i]]))
    .attr("fill", "none").attr("stroke", col).attr("stroke-width", 2.4)
    .attr("d", d3.line().x(d => xh(d[0])).y(d => yh(d[1])).curve(d3.curveMonotoneX));
});
// inset
const xi = d3.scaleLinear().domain([256, 510]).range([1107, 1333]);
const yi = d3.scaleLinear().domain([0, 100]).range([998, 898]);
uvSeries.slice().reverse().forEach(([n, vals, ins, col]) => {
  svg.append("path").datum(waveInset.map((w, i) => [w, ins[i]]))
    .attr("fill", "none").attr("stroke", col).attr("stroke-width", 2.2)
    .attr("d", d3.line().x(d => xi(d[0])).y(d => yi(d[1])).curve(d3.curveMonotoneX));
});
svg.append("line").attr("x1", 1107).attr("x2", 1333).attr("y1", 998).attr("y2", 998)
  .attr("stroke", INK).attr("stroke-width", 2.2);
xAxis(xi, 998, [300, 350, 400, 450, 500], [275, 325, 375, 425, 475]);
frame(PH);
xAxis(xh, PH.b, [200, 300, 400, 500, 600], [250, 350, 450, 550]);
label(1243, 1194, "Wavelength (nm)", { size: 24, anchor: "middle" });
label(1031, 983, "Absorbance (a.u.)", { size: 24, anchor: "middle", rotate: true });
[838, 863, 889, 914, 941].forEach((y, i) => legendRow(1282, 1318, y, uvSeries[i][3], uvSeries[i][0], false, 3));
panelLetter(1024, 835, "h");
</script>
</body>
</html>
